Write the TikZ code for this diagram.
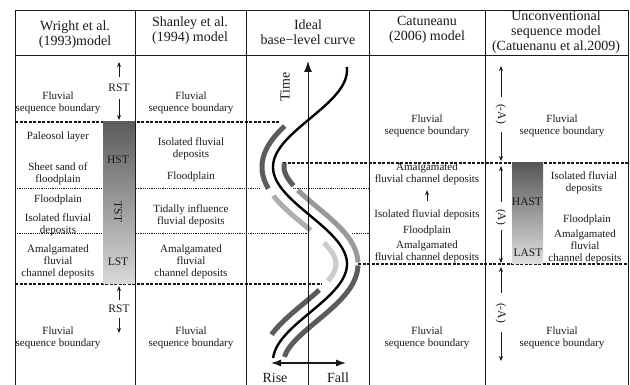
\documentclass[tikz,border=0pt]{standalone}
\usepackage{fontspec}
\setmainfont{Liberation Serif}
\usetikzlibrary{arrows.meta}
\definecolor{bdk}{HTML}{5C5C5C}
\definecolor{bmd}{HTML}{999999}
\definecolor{blt}{HTML}{ADADAD}
\definecolor{bvl}{HTML}{CCCCCC}
\definecolor{ink}{HTML}{1A1A1A}
\begin{document}
\begin{tikzpicture}[x=1pt,y=-1pt,
  declare function={
    cx(\u)=310+37*cos(1.856*(\u-264));
    sl(\u)=-1.1986*sin(1.856*(\u-264));
    nx(\u,\v)=cx(\u)+(\v)/sqrt(1+sl(\u)^2);
    ny(\u,\v)=\u-(\v)*sl(\u)/sqrt(1+sl(\u)^2);
  },
  gridline/.style={draw=ink, line width=0.8pt},
  thickdash/.style={draw=ink, line width=1.2pt, dash pattern=on 3pt off 1.5pt},
  thindot/.style={draw=ink, line width=1pt, dash pattern=on 1.1pt off 1.1pt},
  body/.style={font=\fontsize{11}{12}\selectfont, align=center, inner sep=0pt, text=ink},
  head/.style={font=\fontsize{14}{15}\selectfont, align=center, inner sep=0pt, text=ink},
  tag/.style={font=\fontsize{11.5}{12}\selectfont, inner sep=0pt, text=ink},
  axlab/.style={font=\fontsize{14}{15}\selectfont, inner sep=0pt, text=ink},
  sarr/.style={draw=ink, line width=0.8pt, -{Stealth[length=5pt,width=4pt]}},
  band/.style={line width=5pt},
  bigtip/.style={-{Latex[length=11pt,width=8pt]}},
]
\fill[white] (0,0) rectangle (630,385);
\useasboundingbox (0,0) rectangle (630,385);

% separators between stages
\draw[thickdash] (15,122) -- (279,122);
\draw[thickdash] (283,163) -- (628,163);
\draw[thindot] (15,189) -- (260,189);
\draw[thindot] (293,189) -- (369,189);
\draw[thindot] (15,234) -- (307,234);
\draw[thindot] (352,234) -- (369,234);
\draw[thickdash] (358,264) -- (628,264);
\draw[thickdash] (15,284) -- (322,284);

% gradient bars
\shade[top color=black!64, bottom color=black!15] (103,122) rectangle (135,284);
\shade[top color=black!66, bottom color=black!12] (512,163) rectangle (543,264);

% table frame
\draw[gridline] (15,385) -- (15,10) -- (628,10) -- (628,385);
\draw[gridline] (15,55) -- (628,55);
\foreach \xx in {135,246,369,485} \draw[gridline] (\xx,10) -- (\xx,385);

% bands around the base-level curve
\draw[band, bdk] plot[domain=134:183, samples=40, variable=\t] ({nx(\t,-11)},{ny(\t,-11)});
\draw[band, blt] plot[domain=189:222, samples=30, variable=\t] ({nx(\t,-11)},{ny(\t,-11)});
\draw[band, bvl] plot[domain=235:288, samples=40, variable=\t] ({nx(\t,-11)},{ny(\t,-11)});
\draw[band, bdk] plot[domain=298:341, samples=40, variable=\t] ({nx(\t,-11)},{ny(\t,-11)});
\draw[band, bdk] plot[domain=160:193, samples=30, variable=\t] ({nx(\t,11)},{ny(\t,11)});
\draw[band, bmd] plot[domain=198:263, samples=50, variable=\t] ({nx(\t,11)},{ny(\t,11)});
\draw[band, bdk] plot[domain=265:354, samples=60, variable=\t] ({nx(\t,11)},{ny(\t,11)});

% axes
\coordinate (axbot) at (308,385);
\coordinate (axtop) at (308,61);
\draw[ink, line width=1pt, bigtip] (axbot) -- (axtop);
\coordinate (risept) at (271,363);
\coordinate (fallpt) at (346,363);
\draw[ink, line width=1.2pt, {Latex[length=10pt,width=7pt]}-{Latex[length=10pt,width=7pt]}] (risept) -- (fallpt);

% base-level curve
\draw[black, line width=2.4pt] plot[domain=67:358, samples=120, variable=\t] ({cx(\t)},\t);

\node[axlab, rotate=90] (time) at (285,87) {Time};
\node[axlab, anchor=base] (rise) at (275,382) {Rise};
\node[axlab, anchor=base] (fall) at (338,382) {Fall};

% headers
\node[head] (h1) at (75,35) {Wright et al.\\(1993)model};
\node[head] (h2) at (190,31) {Shanley et al.\\(1994) model};
\node[head] (h3) at (308,32) {Ideal\\base−level curve};
\node[head] (h4) at (427,30) {Catuneanu\\(2006) model};
\node[head] (h5) at (556,32) {Unconventional\\sequence model\\(Catuenanu et al.2009)};

% column 1
\node[body] (a1) at (58,103) {Fluvial\\sequence boundary};
\node[body] (a2) at (58,137) {Paleosol layer};
\node[body] (a3) at (58,174) {Sheet sand of\\floodplain};
\node[body] (a4) at (58,200) {Floodplain};
\node[body] (a5) at (58,225) {Isolated fluvial\\deposits};
\node[body] (a6) at (58,262) {Amalgamated\\fluvial\\channel deposits};
\node[body] (a7) at (58,338) {Fluvial\\sequence boundary};
\node[tag] (hst) at (118,160) {HST};
\node[tag, rotate=-90] (tst) at (118,212) {TST};
\node[tag] (lst) at (118,262) {LST};
\node[tag] (rst1) at (119,88) {RST};
\coordinate (rst1u) at (119,62);
\coordinate (rst1d) at (119,120);
\draw[sarr, shorten <=7pt] (rst1) -- (rst1u);
\draw[sarr, shorten <=7pt] (rst1) -- (rst1d);
\node[tag] (rst2) at (119,309) {RST};
\coordinate (rst2u) at (119,286);
\coordinate (rst2d) at (119,333);
\draw[sarr, shorten <=4.5pt] (rst2) -- (rst2u);
\draw[sarr, shorten <=4.5pt] (rst2) -- (rst2d);

% column 2
\node[body] (b1) at (191,103) {Fluvial\\sequence boundary};
\node[body] (b2) at (191,149) {Isolated fluvial\\deposits};
\node[body] (b3) at (191,177) {Floodplain};
\node[body] (b4) at (191,216) {Tidally influence\\fluvial deposits};
\node[body] (b5) at (191,262) {Amalgamated\\fluvial\\channel deposits};
\node[body] (b6) at (191,338) {Fluvial\\sequence boundary};

% column 4
\node[body] (c1) at (427,126) {Fluvial\\sequence boundary};
\node[body] (c2) at (427,174) {Amalgamated\\fluvial channel deposits};
\node[body] (c3) at (427,215) {Isolated fluvial deposits};
\node[body] (c4) at (427,231) {Floodplain};
\node[body] (c5) at (427,252) {Amalgamated\\fluvial channel deposits};
\node[body] (c6) at (427,338) {Fluvial\\sequence boundary};
\draw[sarr, shorten <=9pt, shorten >=5pt] (c3) -- (c2);

% column 5
\node[body] (d1) at (562,126) {Fluvial\\sequence boundary};
\node[body] (d2) at (584,183) {Isolated fluvial\\deposits};
\node[body] (d3) at (587,220) {Floodplain};
\node[body] (d4) at (585,247) {Amalgamated\\fluvial\\channel deposits};
\node[body] (d5) at (562,338) {Fluvial\\sequence boundary};
\node[tag] (hast) at (527,202) {HAST};
\node[tag] (last) at (528,253) {LAST};

\node[tag, rotate=-90] (ma1) at (501,114) {(-A)};
\coordinate (ma1u) at (501,66);
\coordinate (ma1d) at (501,161);
\draw[sarr, shorten <=7pt] (ma1) -- (ma1u);
\draw[sarr, shorten <=8pt] (ma1) -- (ma1d);
\node[tag, rotate=-90] (pa) at (501,217) {(A)};
\coordinate (pau) at (501,166);
\coordinate (pad) at (501,263);
\draw[sarr, shorten <=7pt] (pa) -- (pau);
\draw[sarr, shorten <=5pt] (pa) -- (pad);
\node[tag, rotate=-90] (ma2) at (501,313) {(-A)};
\coordinate (ma2u) at (501,267);
\coordinate (ma2d) at (501,361);
\draw[sarr, shorten <=10pt] (ma2) -- (ma2u);
\draw[sarr, shorten <=9pt] (ma2) -- (ma2d);
\end{tikzpicture}
\end{document}
